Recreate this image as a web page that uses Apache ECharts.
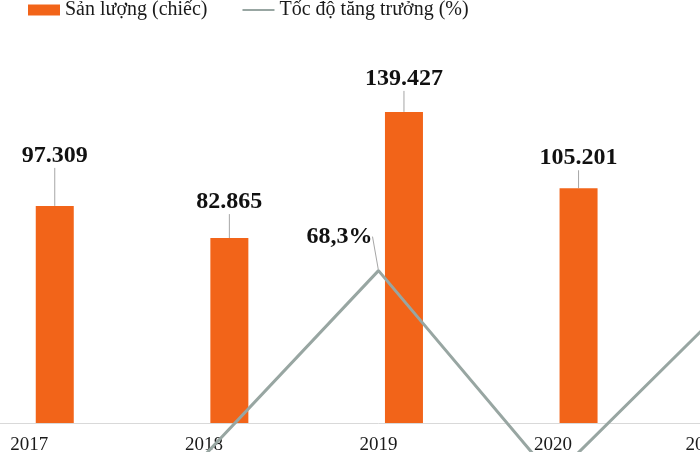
<!DOCTYPE html>
<html>
<head>
<meta charset="utf-8">
<script src="https://cdn.jsdelivr.net/npm/echarts@6/dist/echarts.min.js"></script>
<style>
  html, body { margin: 0; padding: 0; background: #ffffff; overflow: hidden; width: 700px; height: 452px; }
  #wrap { position: relative; width: 700px; height: 452px; overflow: hidden; }
  #chart { position: absolute; left: -58px; top: 0; width: 873px; height: 452px; }
</style>
</head>
<body>
<div id="wrap"><div id="chart"></div></div>
<script>
// ---- data ----
const years = ['2017', '2018', '2019', '2020', '2021 (ước)'];
const production = [97309, 82865, 139427, 105201, 161000];   // chiếc
const growth = [null, -14.8, 68.3, -24.5, 53.0];              // %
const seriesNames = ['Sản lượng (chiếc)', 'Tốc độ tăng trưởng (%)'];

// ---- label placement (style, not data) ----
const barLabelDy = [-33, -19, -16, -13, -16];
const growthLabelIndex = 2;

const FONT = '"Liberation Serif", "DejaVu Serif", serif';
const fmtThousands = v => String(v).replace(/\B(?=(\d{3})+(?!\d))/g, '.');
const fmtPct = v => String(v).replace('.', ',') + '%';

const chart = echarts.init(document.getElementById('chart'), null, { renderer: 'canvas' });

chart.setOption({
  backgroundColor: '#ffffff',
  animation: false,
  legend: {
    data: [
      { name: seriesNames[0], icon: 'rect' },
      { name: seriesNames[1], itemStyle: { opacity: 0 } }
    ],
    left: 86,
    top: 0,
    padding: 0,
    itemWidth: 32,
    itemHeight: 11,
    itemGap: 34,
    textStyle: { fontFamily: FONT, fontSize: 20, color: '#1a1a1a' }
  },
  grid: { left: 0, right: 0, top: 66, bottom: 29, containLabel: false, outerBoundsMode: 'none' },
  xAxis: {
    type: 'category',
    data: years,
    boundaryGap: true,
    axisLine: { show: true, lineStyle: { color: '#d9d9d9', width: 1 } },
    axisTick: { show: false },
    axisLabel: { fontFamily: FONT, fontSize: 19, color: '#1a1a1a', margin: 13, interval: 0 },
    splitLine: { show: false }
  },
  yAxis: [
    { type: 'value', min: 0, max: 160000, show: false, splitLine: { show: false } },
    { type: 'value', min: 0, max: 160, show: false, splitLine: { show: false } }
  ],
  series: [
    {
      name: 'placeholder',
      type: 'bar',
      yAxisIndex: 0,
      barWidth: 38,
      barGap: '34%',
      data: years.map(() => '-'),
      silent: true
    },
    {
      name: seriesNames[0],
      type: 'bar',
      yAxisIndex: 0,
      barWidth: 38,
      barGap: '34%',
      data: production,
      itemStyle: { color: '#f26419' },
      label: {
        show: true,
        position: 'top',
        distance: 5,
        fontFamily: FONT,
        fontSize: 24,
        fontWeight: 'bold',
        color: '#111111',
        formatter: p => fmtThousands(p.value)
      },
      labelLayout: p => ({ dy: barLabelDy[p.dataIndex] }),
      labelLine: { show: true, lineStyle: { color: '#a6a6a6', width: 1 } }
    },
    {
      name: seriesNames[1],
      type: 'line',
      yAxisIndex: 1,
      data: growth.map((v, i) => (i === growthLabelIndex
        ? { value: v, symbol: 'circle', symbolSize: 2, label: { show: true } }
        : { value: v })),
      clip: false,
      connectNulls: false,
      symbol: 'none',
      showSymbol: true,
      lineStyle: { color: '#98a6a2', width: 3 },
      itemStyle: { color: '#98a6a2' },
      label: {
        show: false,
        position: 'top',
        distance: 5,
        width: 32,
        overflow: 'none',
        align: 'left',
        fontFamily: FONT,
        fontSize: 24,
        fontWeight: 'bold',
        color: '#111111',
        formatter: p => fmtPct(p.value)
      },
      labelLayout: p => (p.dataIndex === growthLabelIndex ? { dx: -72, dy: -16 } : {}),
      labelLine: { show: true, lineStyle: { color: '#a6a6a6', width: 1 } }
    }
  ]
});
</script>
</body>
</html>
